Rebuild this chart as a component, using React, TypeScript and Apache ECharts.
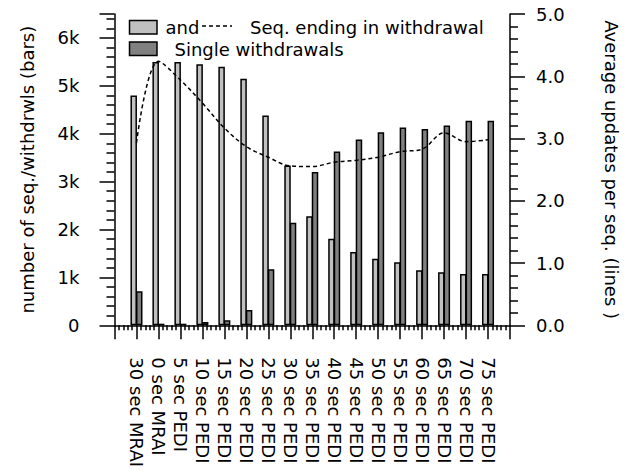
import React, { useEffect, useRef } from "react";
import * as echarts from "echarts";

// Configurations along the x axis
const categories = [
  "30 sec MRAI",
  "0 sec MRAI",
  "5 sec PEDI",
  "10 sec PEDI",
  "15 sec PEDI",
  "20 sec PEDI",
  "25 sec PEDI",
  "30 sec PEDI",
  "35 sec PEDI",
  "40 sec PEDI",
  "45 sec PEDI",
  "50 sec PEDI",
  "55 sec PEDI",
  "60 sec PEDI",
  "65 sec PEDI",
  "70 sec PEDI",
  "75 sec PEDI",
];

// Bars (left axis): number of sequences / withdrawals
const seqEndingInWithdrawal = [
  4800, 5500, 5500, 5450, 5400, 5150, 4380, 3340, 2280, 1810, 1530, 1390, 1320,
  1150, 1110, 1070, 1070,
];
const singleWithdrawals = [
  710, 35, 35, 70, 105, 320, 1170, 2140, 3200, 3630, 3880, 4030, 4130, 4100,
  4170, 4270, 4270,
];

// Line (right axis): average updates per sequence
const avgUpdatesPerSeq = [
  2.93, 4.24, 3.94, 3.57, 3.17, 2.87, 2.7, 2.56, 2.55, 2.62, 2.65, 2.7, 2.79,
  2.83, 3.09, 2.95, 2.98,
];

const leftTickLabels = ["0", "1k", "2k", "3k", "4k", "5k", "6k"];
const rightTickLabels = ["0.0", "1.0", "2.0", "3.0", "4.0", "5.0"];

const FONT = "DejaVu Sans";
const LIGHT = "#c0c0c0";
const DARK = "#808080";

export default function App() {
  const ref = useRef<HTMLDivElement>(null);

  useEffect(() => {
    if (!ref.current) return;
    const chart = echarts.init(ref.current, undefined, { renderer: "svg" });

    const axisLine = () => ({ show: true, onZero: false, lineStyle: { color: "#000", width: 1.5 } });
    const labelFont = { fontSize: 18, fontFamily: FONT, color: "#000" };
    const ticks = (length: number) => ({ show: true, length, lineStyle: { color: "#000", width: 1.5 } });
    const minor = (length: number) => ({
      show: true,
      splitNumber: 5,
      length,
      lineStyle: { color: "#000", width: 1.5 },
    });

    const option: echarts.EChartsOption = {
      animation: false,
      backgroundColor: "#fff",
      textStyle: { fontFamily: FONT, color: "#000" },
      grid: { left: 114.5, right: 117, top: 14, bottom: 144, containLabel: false },
      xAxis: {
        type: "value",
        min: -1,
        max: 17,
        interval: 1,
        axisLine: axisLine(),
        axisTick: ticks(14),
        minorTick: minor(5),
        splitLine: { show: false },
        axisLabel: {
          rotate: -90,
          margin: 32,
          ...labelFont,
          formatter: (v: number) =>
            Number.isInteger(v) && v >= 0 && v < categories.length ? categories[v] : "",
        },
      },
      yAxis: [
        {
          type: "value",
          min: 0,
          max: 6500,
          interval: 1000,
          name: "number of seq./withdrwls (bars)",
          nameLocation: "middle",
          nameRotate: 90,
          nameGap: 78,
          nameTextStyle: { ...labelFont },
          axisLine: axisLine(),
          axisTick: ticks(15),
          minorTick: minor(8),
          splitLine: { show: false },
          axisLabel: {
            margin: 35,
            ...labelFont,
            formatter: (v: number) => (v % 1000 === 0 ? leftTickLabels[v / 1000] ?? "" : ""),
          },
        },
        {
          type: "value",
          min: 0,
          max: 5,
          interval: 1,
          name: "Average updates per seq. (lines )",
          nameLocation: "middle",
          nameRotate: -90,
          nameGap: 92,
          nameTextStyle: { ...labelFont },
          axisLine: axisLine(),
          axisTick: ticks(15),
          minorTick: minor(8),
          splitLine: { show: false },
          axisLabel: {
            margin: 26,
            ...labelFont,
            formatter: (v: number) => (Number.isInteger(v) ? rightTickLabels[v] ?? "" : ""),
          },
        },
      ],
      series: [
        {
          name: "Seq. ending in withdrawal",
          type: "bar",
          yAxisIndex: 0,
          barWidth: 6.5,
          barGap: "-15%",
          itemStyle: { color: LIGHT, borderColor: "#000", borderWidth: 1.5 },
          data: seqEndingInWithdrawal.map((v, i) => [i, v]),
        },
        {
          name: "Single withdrawals",
          type: "bar",
          yAxisIndex: 0,
          barWidth: 6.5,
          barGap: "-15%",
          itemStyle: { color: DARK, borderColor: "#000", borderWidth: 1.5 },
          data: singleWithdrawals.map((v, i) => [i, v]),
        },
        {
          name: "Average updates per seq.",
          type: "line",
          yAxisIndex: 1,
          smooth: 0.35,
          symbol: "none",
          z: 5,
          lineStyle: { color: "#000", width: 1.5, type: [4, 3] },
          data: avgUpdatesPerSeq.map((v, i) => [i, v]),
        },
      ],
      // Hand-drawn key above the bars
      graphic: [
        {
          type: "rect",
          shape: { x: 129.5, y: 20.5, width: 27.5, height: 13.5 },
          style: { fill: LIGHT, stroke: "#000", lineWidth: 1.5 },
        },
        {
          type: "text",
          x: 165.5,
          y: 27,
          style: { text: "and", font: `18px "${FONT}"`, fill: "#000", verticalAlign: "middle", align: "left" },
        },
        {
          type: "line",
          shape: { x1: 202, y1: 26, x2: 232, y2: 26 },
          style: { stroke: "#000", lineWidth: 1.5, lineDash: [4, 3] },
        },
        {
          type: "text",
          x: 250,
          y: 27,
          style: { text: "Seq. ending in withdrawal", font: `18px "${FONT}"`, fill: "#000", verticalAlign: "middle", align: "left" },
        },
        {
          type: "rect",
          shape: { x: 129.5, y: 42, width: 27.5, height: 13.5 },
          style: { fill: DARK, stroke: "#000", lineWidth: 1.5 },
        },
        {
          type: "text",
          x: 174.5,
          y: 49,
          style: { text: "Single withdrawals", font: `18px "${FONT}"`, fill: "#000", verticalAlign: "middle", align: "left" },
        },
      ],
    };

    chart.setOption(option);
    return () => chart.dispose();
  }, []);

  return (
    <div
      ref={ref}
      style={{ position: "fixed", left: 0, top: 0, width: 628, height: 470, background: "#fff" }}
    />
  );
}
